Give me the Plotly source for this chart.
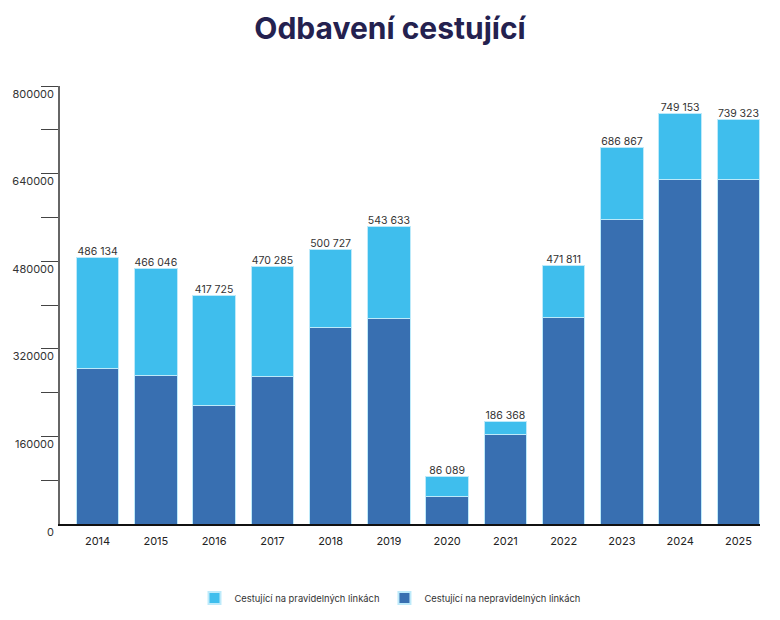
import plotly.graph_objects as go

years = ["2014", "2015", "2016", "2017", "2018", "2019", "2020", "2021", "2022", "2023", "2024", "2025"]
totals = [486134, 466046, 417725, 470285, 500727, 543633, 86089, 186368, 471811, 686867, 749153, 739323]
irregular = [284700, 271100, 215700, 269300, 358900, 376000, 50000, 162700, 377800, 557000, 628900, 628900]
regular = [201434, 194946, 202025, 200985, 141827, 167633, 36089, 23668, 94011, 129867, 120253, 110423]

tick_marks = [80000, 160000, 240000, 320000, 400000, 480000, 560000, 640000, 720000, 800000]
label_vals = [0, 160000, 320000, 480000, 640000, 800000]
label_text = ["0", "160000", "320000", "480000", "640000", "800000"]

name_regular = "Cestující na pravidelných linkách"
name_irregular = "Cestující na nepravidelných linkách"

light = "#3fbeed"
dark = "#386fb1"
edge = "#bdeafa"

def fmt(v):
    return f"{v:,}".replace(",", " ")

fig = go.Figure()
fig.add_trace(go.Bar(
    x=years, y=irregular, name=name_irregular,
    marker=dict(color=dark, line=dict(color=edge, width=1)),
    legendrank=2,
))
fig.add_trace(go.Bar(
    x=years, y=regular, name=name_regular,
    marker=dict(color=light, line=dict(color=edge, width=1)),
    legendrank=1,
))
fig.add_trace(go.Scatter(
    x=years, y=totals, mode="text", yaxis="y2",
    text=[fmt(v) for v in totals],
    textposition="top center",
    textfont=dict(family="Inter, Liberation Sans, sans-serif", size=10.5, color="#333333"),
    showlegend=False, hoverinfo="skip",
))

fig.update_layout(
    width=780, height=620,
    margin=dict(l=60, r=20, t=86, b=96, autoexpand=False),
    paper_bgcolor="white", plot_bgcolor="white",
    barmode="stack", bargap=0.27,
    font=dict(family="Inter, Liberation Sans, sans-serif", color="#333333"),
    title=dict(
        text="<b>Odbavení cestující</b>",
        x=0.5, xanchor="center", xref="container",
        yref="container", y=1 - 28 / 620, yanchor="middle",
        font=dict(family="Inter, sans-serif", size=30, color="#24214f"),
    ),
    legend=dict(
        orientation="h", xref="container", x=0.5, xanchor="center",
        yref="container", y=1 - 598 / 620, yanchor="middle",
        font=dict(size=9.4, color="#333333"),
        traceorder="normal",
        itemsizing="constant",
    ),
    showlegend=True,
    xaxis=dict(
        type="category",
        range=[-0.645, 11.37],
        showline=True, linecolor="#111111", linewidth=1.5,
        showgrid=False, zeroline=False,
        ticks="", tickfont=dict(size=11, color="#222222"),
        ticklabelstandoff=6,
    ),
    yaxis=dict(
        range=[0, 800000],
        tickmode="array", tickvals=tick_marks, showticklabels=False,
        showline=True, linecolor="#666666", linewidth=1.5,
        showgrid=False, zeroline=False,
        ticks="outside", ticklen=17, tickcolor="#444444", tickwidth=1.2,
    ),
    yaxis2=dict(
        overlaying="y", side="left", anchor="x",
        range=[0, 800000],
        tickmode="array", tickvals=label_vals, ticktext=label_text,
        showline=False, showgrid=False, zeroline=False, ticks="",
        ticklabelposition="outside bottom",
        ticklabelstandoff=5,
        tickfont=dict(size=11, color="#333333"),
    ),
)

fig.write_html("out.html", config={"displayModeBar": False},
               post_script="document.body.style.margin='0';")
